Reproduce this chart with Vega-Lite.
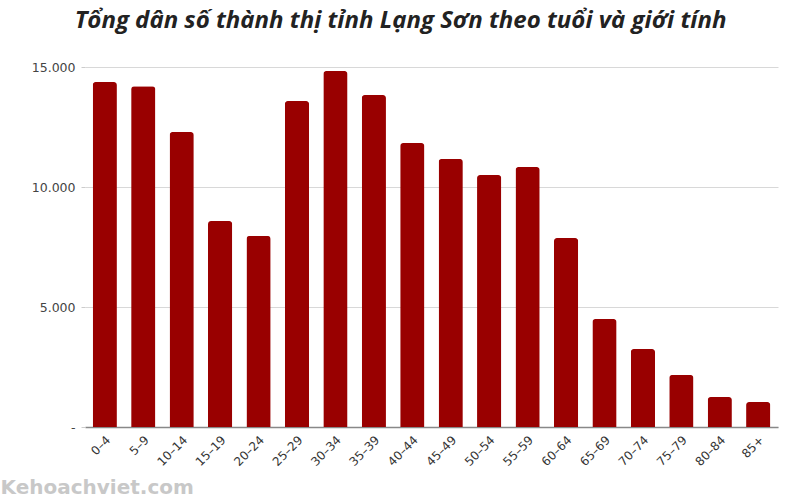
{
  "$schema": "https://vega.github.io/schema/vega-lite/v6.json",
  "width": 693,
  "height": 360,
  "autosize": {"type": "none"},
  "padding": {"left": 85, "top": 67, "right": 22, "bottom": 73},
  "background": "white",
  "title": {
    "text": "Tổng dân số thành thị tỉnh Lạng Sơn theo tuổi và giới tính",
    "font": "Open Sans, sans-serif",
    "fontStyle": "italic",
    "fontWeight": "bold",
    "fontSize": 24,
    "color": "#222222",
    "anchor": "middle",
    "dx": -31,
    "offset": 28
  },
  "data": {
    "values": [
      {"age": "0–4", "pop": 14375},
      {"age": "5–9", "pop": 14200},
      {"age": "10–14", "pop": 12290},
      {"age": "15–19", "pop": 8580},
      {"age": "20–24", "pop": 7960},
      {"age": "25–29", "pop": 13580},
      {"age": "30–34", "pop": 14830},
      {"age": "35–39", "pop": 13830},
      {"age": "40–44", "pop": 11830},
      {"age": "45–49", "pop": 11170},
      {"age": "50–54", "pop": 10500},
      {"age": "55–59", "pop": 10830},
      {"age": "60–64", "pop": 7870},
      {"age": "65–69", "pop": 4500},
      {"age": "70–74", "pop": 3250},
      {"age": "75–79", "pop": 2170},
      {"age": "80–84", "pop": 1250},
      {"age": "85+", "pop": 1040}
    ]
  },
  "mark": {
    "type": "bar",
    "color": "#990000",
    "cornerRadiusTopLeft": 3,
    "cornerRadiusTopRight": 3
  },
  "encoding": {
    "x": {
      "field": "age",
      "type": "nominal",
      "sort": null,
      "scale": {"paddingInner": 0.37, "paddingOuter": 0.2},
      "axis": {
        "title": "Kehoachviet.com",
        "titleFont": "DejaVu Sans, sans-serif",
        "titleFontSize": 20,
        "titleFontWeight": "bold",
        "titleColor": "#c8c8c8",
        "titleAnchor": "start",
        "titleAlign": "left",
        "titleBaseline": "bottom",
        "titleX": -85,
        "titleY": 70,
        "labelAngle": -45,
        "labelAlign": "right",
        "labelBaseline": "top",
        "labelFont": "DejaVu Sans, sans-serif",
        "labelFontSize": 12,
        "labelColor": "#333333",
        "labelPadding": 7,
        "ticks": false,
        "domainColor": "#888888",
        "domainWidth": 1.5
      }
    },
    "y": {
      "field": "pop",
      "type": "quantitative",
      "scale": {"domain": [0, 15000]},
      "axis": {
        "title": null,
        "values": [0, 5000, 10000, 15000],
        "labelExpr": "datum.value == 0 ? '-' : replace(format(datum.value, ','), ',', '.')",
        "labelFont": "DejaVu Sans, sans-serif",
        "labelFontSize": 12.5,
        "labelColor": "#444444",
        "labelPadding": 6,
        "domain": false,
        "ticks": true,
        "tickSize": 4,
        "tickColor": "#cccccc",
        "gridColor": "#d8d8d8"
      }
    }
  },
  "config": {"view": {"stroke": null}}
}
